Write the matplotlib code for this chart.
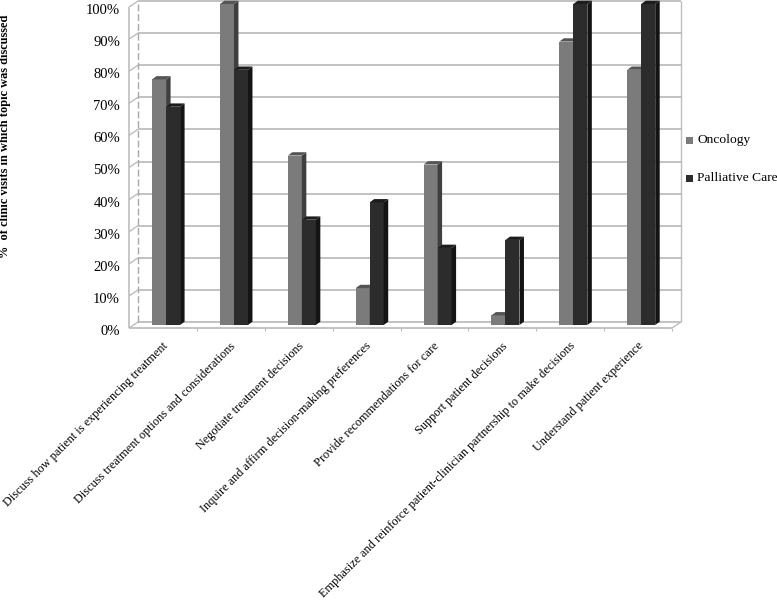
import matplotlib
matplotlib.use("Agg")
import matplotlib.pyplot as plt
import numpy as np

categories = [
    "Discuss how patient is experiencing treatment",
    "Discuss treatment options and considerations",
    "Negotiate treatment decisions",
    "Inquire and affirm decision-making preferences",
    "Provide recommendations for care",
    "Support patient decisions",
    "Emphasize and reinforce patient-clinician partnership to make decisions",
    "Understand patient experience",
]
oncology = [76.5, 100, 52.8, 11.5, 50, 3, 88.3, 79.5]
palliative = [68, 79.5, 32.8, 38.2, 24, 26.5, 100, 100]
y_ticks = [0, 10, 20, 30, 40, 50, 60, 70, 80, 90, 100]

W, H = 777, 600
LEFT, RIGHT, TOP, BOTTOM = 129, 672, 7, 328
DX_PX, DY_PX = 9, 6

plt.rcParams['font.family'] = ['Liberation Serif', 'DejaVu Serif']

fig = plt.figure(figsize=(W / 100, H / 100), dpi=100)
ax = fig.add_axes([LEFT / W, 1 - BOTTOM / H, (RIGHT - LEFT) / W, (BOTTOM - TOP) / H])
ax.set_xlim(0, len(categories))
ax.set_ylim(0, 100)
ax.axis('off')

# one pixel in data units
px_x = len(categories) / (RIGHT - LEFT)
px_y = 100 / (BOTTOM - TOP)
dx = DX_PX * px_x
dy = DY_PX * px_y
grid_col = '#bdbdbd'


def line(xs, ys, **kw):
    kw.setdefault('color', grid_col)
    kw.setdefault('lw', 1.3)
    ax.plot(xs, ys, clip_on=False, solid_capstyle='butt', **kw)


def draw_bar(x0, width, value, front, side, top):
    # bars sit half way into the depth of the floor
    ox, oy = dx * 0.35, dy * 0.5
    sx, sy = dx * 0.5, dy * 0.55
    x1 = x0 + width
    ax.fill([x0 + ox, x1 + ox, x1 + ox, x0 + ox], [oy, oy, value + oy, value + oy],
            color=front, lw=0, clip_on=False, zorder=3)
    ax.fill([x1 + ox, x1 + ox + sx, x1 + ox + sx, x1 + ox],
            [oy, oy + sy, value + oy + sy, value + oy],
            color=side, lw=0, clip_on=False, zorder=3)
    ax.fill([x0 + ox, x1 + ox, x1 + ox + sx, x0 + ox + sx],
            [value + oy, value + oy, value + oy + sy, value + oy + sy],
            color=top, lw=0, clip_on=False, zorder=3)


# walls and gridlines
for t in y_ticks:
    line([dx, len(categories) + dx], [t + dy, t + dy])
    line([0, dx], [t, t + dy], lw=1.0)
line([0, 0], [0, 100], lw=1.2)
line([dx, dx], [dy, 100 + dy], lw=1.0, ls=(0, (5, 2)), color='#a8a8a8')
line([len(categories) + dx] * 2, [dy, 100 + dy], lw=1.0)
line([0, len(categories)], [0, 0])
line([len(categories), len(categories) + dx], [0, dy], lw=1.0)

# floor tick marks between categories
for i in range(1, len(categories) + 1):
    line([i, i], [0, -3 * px_y], lw=0.8)

bar_w = 14 * px_x
for i, (a, b) in enumerate(zip(oncology, palliative)):
    c = i + 0.5
    draw_bar(c - bar_w, bar_w, a, '#7b7b7b', '#3f3f3f', '#555555')
    draw_bar(c, bar_w, b, '#2c2c2c', '#141414', '#1c1c1c')

# tick labels
for t in y_ticks:
    ax.text(-9 * px_x, t - 3.5 * px_y, f"{t}%", ha='right', va='center', fontsize=10.5, color='black')

for i, name in enumerate(categories):
    ax.text(i + 0.5 - 1 * px_x, -12 * px_y, name, rotation=45, rotation_mode='anchor',
            ha='right', va='top', fontsize=8.85, color='black', clip_on=False)

fig.text(5 / W, 1 - 136 / H, "%  of clinic visits in which topic was discussed",
         rotation=90, ha='center', va='center', fontsize=8.9, fontweight='bold')

# legend
for name, col, y_px in [("Oncology", '#7b7b7b', 140), ("Palliative Care", '#2c2c2c', 178)]:
    fig.patches.append(plt.Rectangle((686 / W, 1 - (y_px + 4) / H), 7 / W, 7 / H, color=col,
                                     transform=fig.transFigure, lw=0))
    fig.text(697 / W, 1 - y_px / H, name, ha='left', va='center', fontsize=9.7)

fig.savefig("out.png", dpi=100)
